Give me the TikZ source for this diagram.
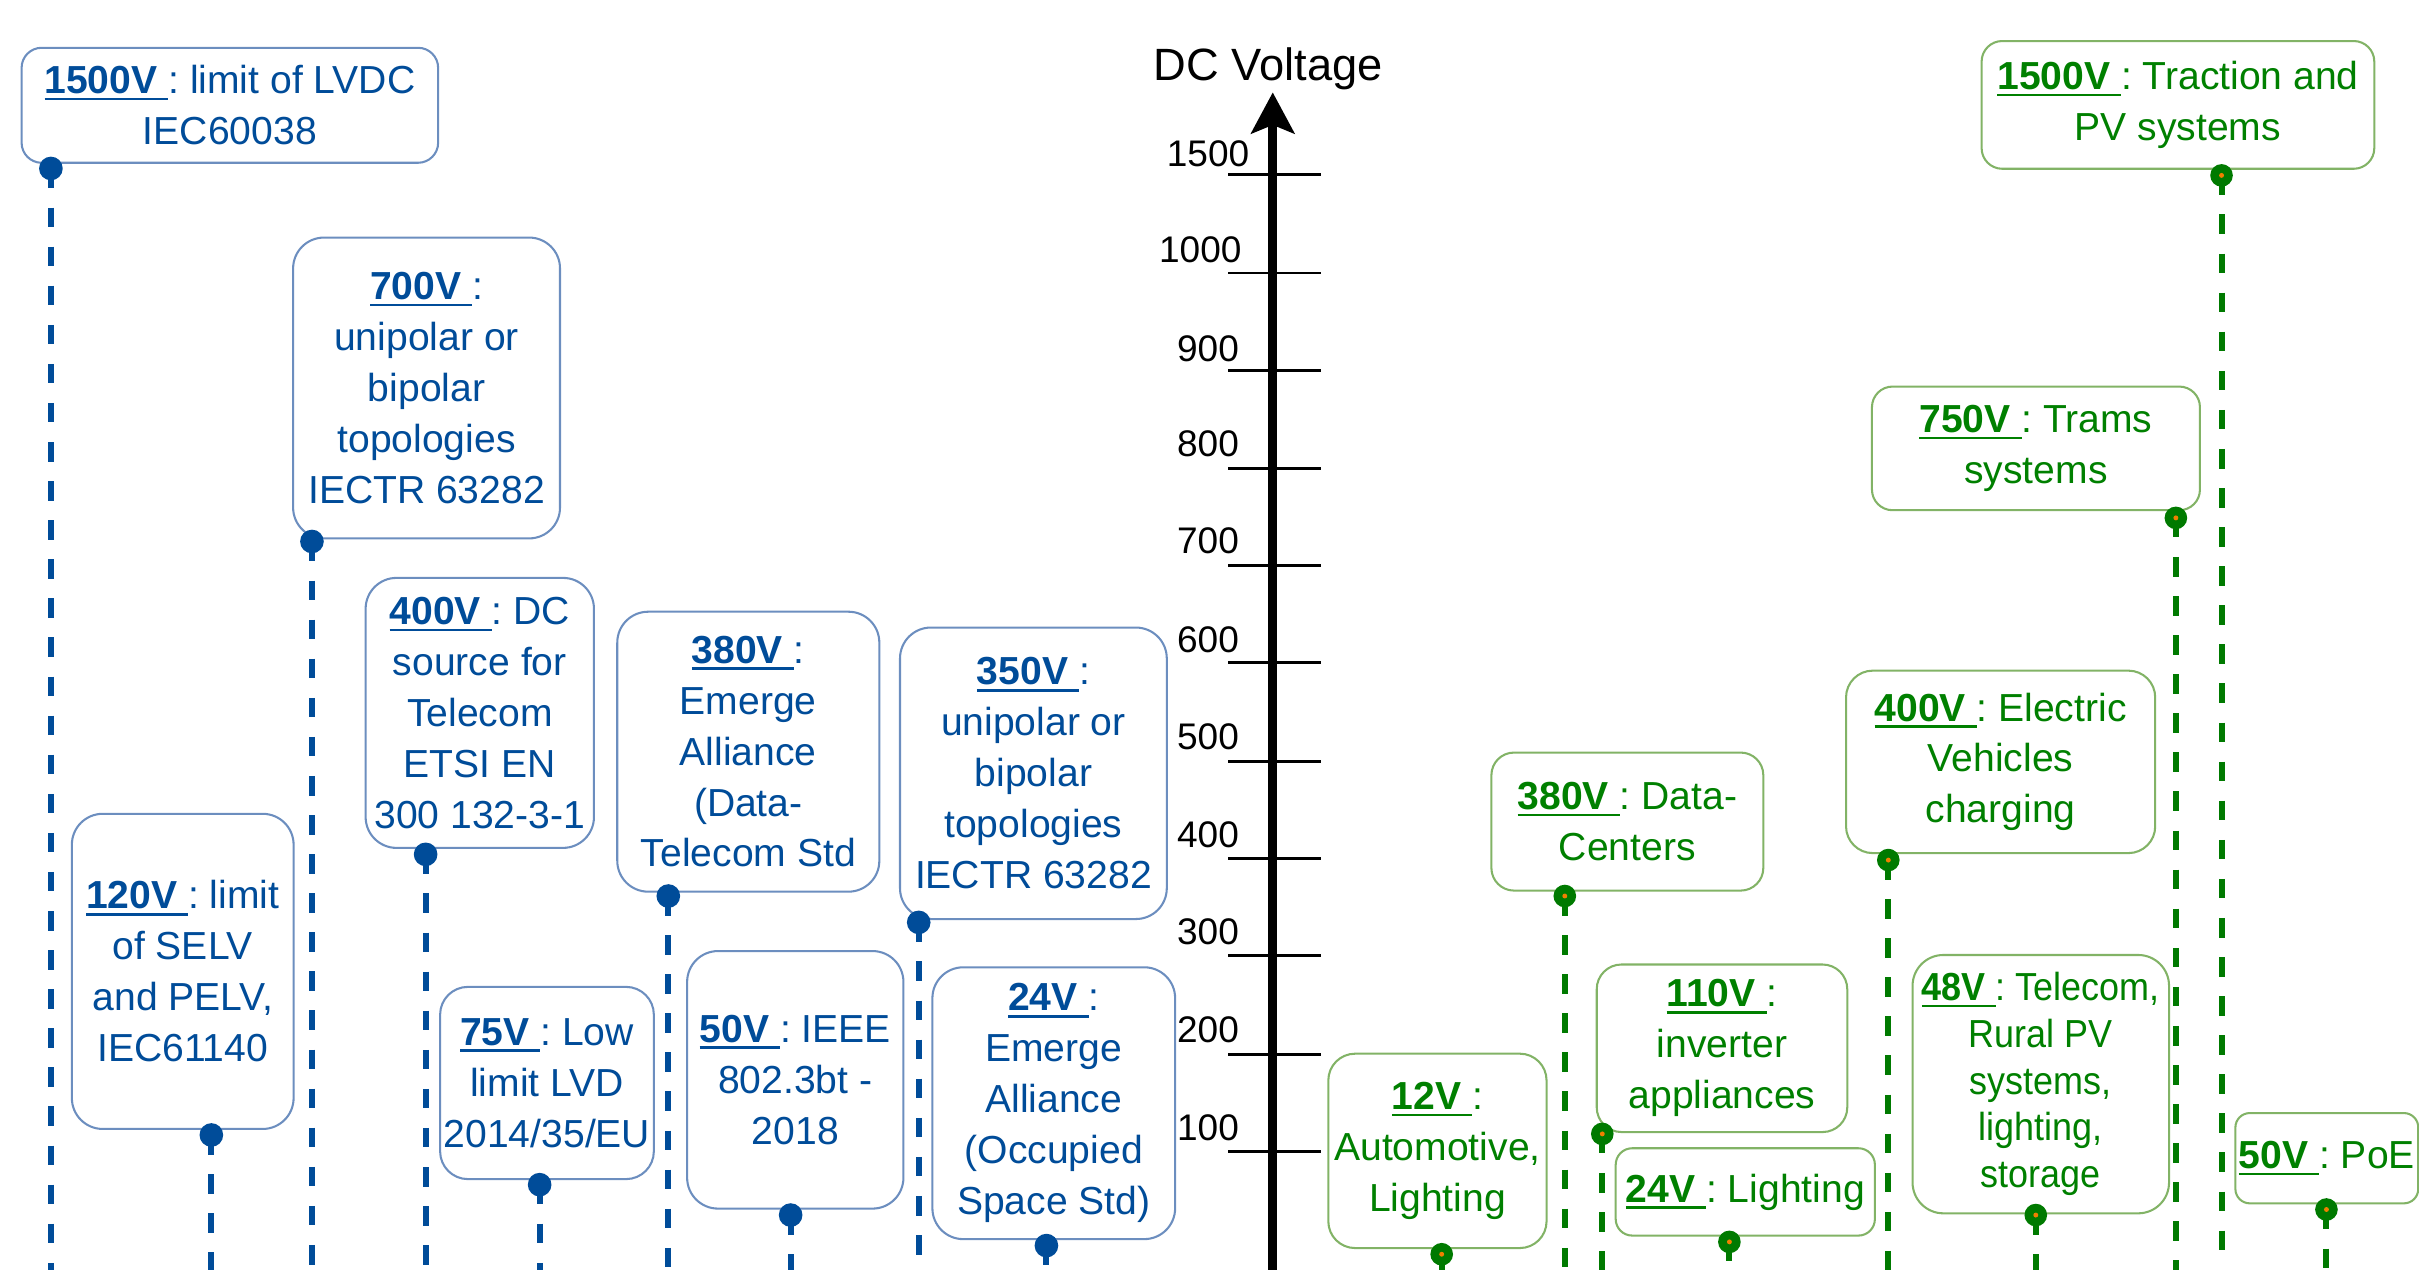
\documentclass[tikz,border=0pt]{standalone}
\usepackage{fontspec}
\setmainfont{Liberation Sans}
\newfontfamily\narrowfont{Liberation Sans}[FakeStretch=0.92]
\definecolor{btext}{HTML}{004C99}
\definecolor{bborder}{HTML}{6C8EBF}
\definecolor{bdotc}{HTML}{004C99}
\definecolor{gtext}{HTML}{008000}
\definecolor{gborder}{HTML}{82B366}
\definecolor{gdotc}{HTML}{007A00}
\definecolor{gctr}{HTML}{F08000}
\frenchspacing
\newcommand\boxfont{\fontsize{19}{24.75}\selectfont}
\newcommand\narrowboxfont{\narrowfont\fontsize{19}{22.7}\selectfont}
\newcommand\axfont{\fontsize{18}{21}\selectfont}
\newcommand\volt[1]{\setbox0\hbox{\textbf{#1}\ }\rlap{\rule[-3.2pt]{\wd0}{1.2pt}}\box0}
\begin{document}
\begin{tikzpicture}[x=0.75pt,y=-0.75pt,
  bbox/.style={draw=bborder, line width=1pt, text=btext, align=center, inner sep=0pt, font=\boxfont, fill=white},
  gbox/.style={draw=gborder, line width=1pt, text=gtext, align=center, inner sep=0pt, font=\boxfont, fill=white},
  sz/.style 2 args={minimum width=#1, minimum height=#2},
  bdot/.style={circle, fill=bdotc, inner sep=0pt, minimum size=11.5pt},
  gdot/.style={circle, fill=gdotc, inner sep=0pt, minimum size=11pt},
  bline/.style={draw=bdotc, line width=2.9pt, dash pattern=on 9.5pt off 9.5pt},
  gline/.style={draw=gdotc, line width=2.9pt, dash pattern=on 9.5pt off 9.5pt},
  axtick/.style={line width=1.4pt},
  axlab/.style={anchor=east, inner sep=0pt, font=\axfont}]
\useasboundingbox (0,0) rectangle (1568,823);
\coordinate (bot) at (0,823);

% ---------------- axis ----------------
\coordinate (axbot) at (825,823);
\coordinate (axtop) at (825,80);
\draw[line width=4.6pt] (axbot) -- (axtop);
\fill (825,60) -- (839.5,87) -- (825,81) -- (810.5,87) -- cycle;
\node[anchor=base, inner sep=0pt, font=\fontsize{22}{26}\selectfont] (title) at (822,52.5) {DC Voltage};
\foreach \yy in {112.9,177,240,303.5,366.5,429.5,493.5,556.5,619.6,683.6,746.6}
  \draw[axtick] (796,\yy) -- (856,\yy);
\node[axlab] (l1500) at (810,99.8) {1500};
\node[axlab] (l1000) at (805,161.7) {1000};
\node[axlab] (l900) at (803.3,225.8) {900};
\node[axlab] (l800) at (803.3,287.7) {800};
\node[axlab] (l700) at (803.3,350.7) {700};
\node[axlab] (l600) at (803.3,414.8) {600};
\node[axlab] (l500) at (803.3,477.8) {500};
\node[axlab] (l400) at (803.3,540.8) {400};
\node[axlab] (l300) at (803.3,603.8) {300};
\node[axlab] (l200) at (803.3,667.8) {200};
\node[axlab] (l100) at (803.3,730.9) {100};

% ---------------- blue boxes ----------------
\node[bbox, sz={202.5pt}{55.9pt}, rounded corners=9.75pt] (b1500) at (149,68.25) {\volt{1500V}: limit of LVDC\\IEC60038};
\node[bbox, sz={129.75pt}{146.25pt}, rounded corners=15pt] (b700) at (276.5,251.5) {\volt{700V}:\\unipolar or\\bipolar\\topologies\\IECTR 63282};
\node[bbox, sz={107.8pt}{153.2pt}, rounded corners=15pt] (b120) at (118.45,629.65) {\volt{120V}: limit\\of SELV\\and PELV,\\IEC61140};
\node[bbox, sz={111pt}{131.25pt}, rounded corners=15pt] (b400) at (311,462.1) {\volt{400V}: DC\\source for\\Telecom\\ETSI EN\\300 132-3-1};
\node[bbox, sz={103.9pt}{93.45pt}, rounded corners=13.5pt] (b75) at (354.55,702) {\volt{75V}: Low\\limit LVD\\2014/35/EU};
\node[bbox, sz={127.4pt}{136.1pt}, rounded corners=15pt] (b380) at (485.05,487.25) {\volt{380V}:\\Emerge\\Alliance\\(Data-\\Telecom Std};
\node[bbox, sz={105.15pt}{125.2pt}, rounded corners=15pt] (b50) at (515.5,699.95) {\volt{50V}: IEEE\\802.3bt -\\2018};
\node[bbox, sz={129.7pt}{141.7pt}, rounded corners=15pt] (b350) at (669.85,501.25) {\volt{350V}:\\unipolar or\\bipolar\\topologies\\IECTR 63282};
\node[bbox, sz={118pt}{132.15pt}, rounded corners=15pt] (b24) at (683.05,715.1) {\volt{24V}:\\Emerge\\Alliance\\(Occupied\\Space Std)};

% ---------------- green boxes ----------------
\node[gbox, sz={190.9pt}{62.1pt}, rounded corners=10pt] (g1500) at (1411.75,68) {\volt{1500V}: Traction and\\PV systems};
\node[gbox, sz={159.45pt}{60.1pt}, rounded corners=10pt] (g750) at (1319.7,290.65) {\volt{750V}: Trams\\systems};
\node[gbox, sz={150.3pt}{88.7pt}, rounded corners=13pt] (g400) at (1296.8,493.85) {\volt{400V}: Electric\\Vehicles\\charging};
\node[gbox, sz={132.2pt}{67.1pt}, rounded corners=11pt] (g380) at (1054.85,532.55) {\volt{380V}: Data-\\Centers};
\node[gbox, sz={121.8pt}{81.45pt}, rounded corners=12pt] (g110) at (1116.2,679.5) {\volt{110V}:\\inverter\\appliances};
\node[gbox, sz={126pt}{42.45pt}, rounded corners=8pt] (g24) at (1131.3,772.6) {\volt{24V}: Lighting};
\node[gbox, sz={106.1pt}{94.5pt}, rounded corners=13pt] (g12) at (931.75,746) {\volt{12V}:\\Automotive,\\Lighting};
\node[gbox, sz={124.7pt}{125.6pt}, rounded corners=15pt, font=\narrowboxfont] (g48) at (1322.85,702.75) {\volt{48V}: Telecom,\\Rural PV\\systems,\\lighting,\\storage};
\node[gbox, sz={88.9pt}{43.9pt}, rounded corners=7pt] (g50) at (1508.25,750.75) {\volt{50V}: PoE};

% ---------------- blue markers and dashed lines ----------------
\node[bdot] (p1500) at (33,109.2) {};
\node[bdot] (p700) at (202.2,351) {};
\node[bdot] (p120) at (137,735.7) {};
\node[bdot] (p400) at (275.9,553.8) {};
\node[bdot] (p75) at (349.8,767.9) {};
\node[bdot] (p380) at (433.2,580.8) {};
\node[bdot] (p50) at (512.5,787.6) {};
\node[bdot] (p350) at (595.5,597.9) {};
\node[bdot] (p24) at (678.3,807.4) {};
\foreach \p in {p1500,p700,p120,p400,p75,p380,p50,p350,p24}
  \draw[bline] (\p.center) -- (\p |- bot);

% ---------------- green markers and dashed lines ----------------
\node[gdot] (q1500) at (1440,113.7) {};
\node[gdot] (q750) at (1410.4,335.7) {};
\node[gdot] (q400) at (1224,557.5) {};
\node[gdot] (q380) at (1014.3,580.8) {};
\node[gdot] (q110) at (1038.6,735) {};
\node[gdot] (q24) at (1121,805) {};
\node[gdot] (q12) at (934.5,813) {};
\node[gdot] (q48) at (1319.6,787.6) {};
\node[gdot] (q50) at (1508,784) {};
\foreach \q in {q1500,q750,q400,q380,q110,q24,q12,q48,q50}{
  \draw[gline] (\q.center) -- (\q |- bot);
  \fill[gctr] (\q.center) circle (1.2pt);
}
\end{tikzpicture}
\end{document}
